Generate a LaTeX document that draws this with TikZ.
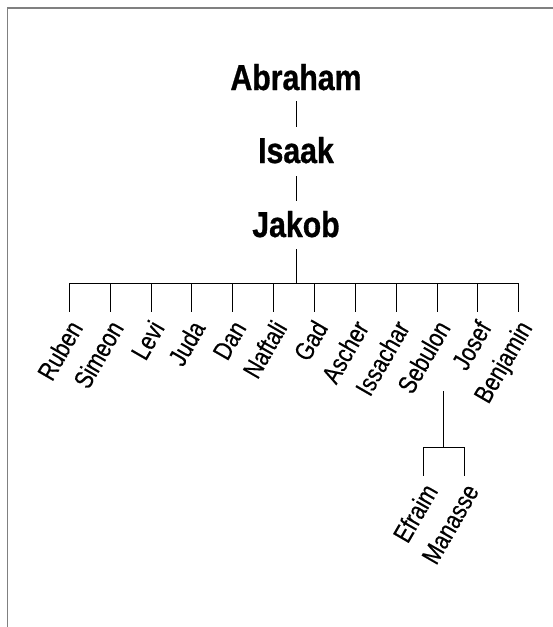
\documentclass[tikz,border=0pt]{standalone}
\usepackage{fontspec}
\setmainfont{Liberation Sans}
\newfontfamily\headfont[FakeStretch=0.84,FakeBold=0.8]{Liberation Sans}
\newfontfamily\kidfont[FakeStretch=0.82,FakeBold=0.4]{Liberation Sans}
\tikzset{
  head/.style={font=\headfont\fontsize{36}{36}\selectfont\bfseries, inner sep=0pt, anchor=base},
  kid/.style={font=\kidfont\fontsize{26}{26}\selectfont, inner sep=0pt, anchor=base east, rotate=60},
  link/.style={line width=0.9pt, line cap=rect},
  frameline/.style={draw=black!50, line width=1.5pt}
}
\begin{document}
\begin{tikzpicture}[x=1pt,y=-1pt]
\useasboundingbox (0,0) rectangle (553,627);
\draw[frameline] (7.5,627) -- (7.5,8) -- (553,8);
\node[head] (abraham) at (296,90) {Abraham};
\node[head] (isaak) at (296,163) {Isaak};
\node[head] (jakob) at (296,237) {Jakob};
\draw[link] ([yshift=-11pt]abraham.south) -- ([yshift=10.5pt]isaak.north);
\draw[link] ([yshift=-12.5pt]isaak.south) -- ([yshift=10.5pt]jakob.north);
\coordinate (jbar) at (296,283.3);
\draw[link] ([yshift=-11.5pt]jakob.south) -- (jbar);
\foreach \n [count=\i from 0] in {Ruben,Simeon,Levi,Juda,Dan,Naftali,Gad,Ascher,Issachar,Sebulon,Josef,Benjamin}{
  \pgfmathsetmacro{\xx}{69.3+40.85*\i}
  \coordinate (top\i) at (\xx,283.3);
  \coordinate (bot\i) at (\xx,311.7);
  \node[kid] (kid\i) at (\xx+14.4,327.7) {\n};
  \draw[link] (top\i) -- (bot\i);
}
\draw[link] (top0) -- (top11);
\coordinate (sebA) at (443.3,391);
\coordinate (sebB) at (443.3,447.3);
\draw[link] (sebA) -- (sebB);
\coordinate (efA) at (423.3,447.3);
\coordinate (efB) at (423.3,475.7);
\coordinate (maA) at (464.3,447.3);
\coordinate (maB) at (464.3,475.7);
\draw[link] (efB) -- (efA) -- (maA) -- (maB);
\node[kid] (efraim) at (438.7,490.9) {Efraim};
\node[kid] (manasse) at (479.7,490.9) {Manasse};
\end{tikzpicture}
\end{document}
